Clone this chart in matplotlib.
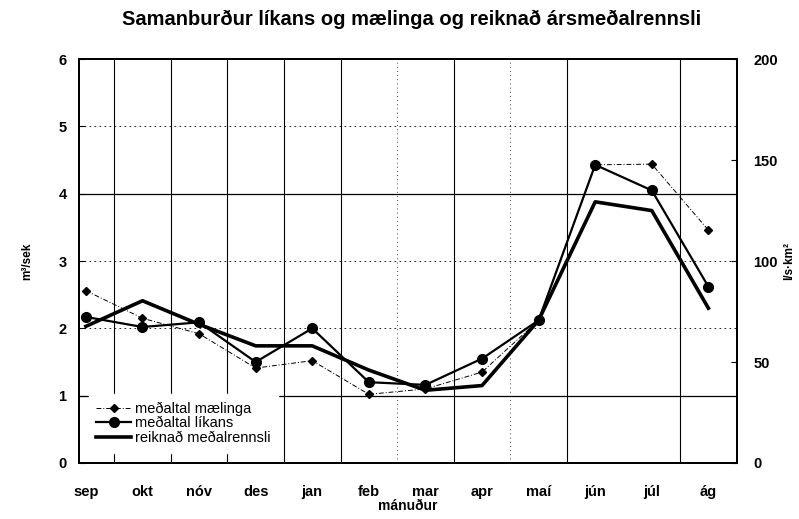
import matplotlib.pyplot as plt

plt.rcParams['font.family'] = ['Liberation Sans', 'DejaVu Sans']

# mánaðarmeðaltöl, m3/sek
manudir = ['sep', 'okt', 'nóv', 'des', 'jan', 'feb', 'mar', 'apr', 'maí', 'jún', 'júl', 'ág']
maelingar = [2.56, 2.15, 1.92, 1.41, 1.52, 1.02, 1.10, 1.35, 2.12, 4.43, 4.44, 3.46]
likan = [2.17, 2.02, 2.09, 1.50, 2.00, 1.20, 1.16, 1.55, 2.12, 4.43, 4.05, 2.62]
reiknad = [2.03, 2.41, 2.06, 1.74, 1.74, 1.38, 1.08, 1.15, 2.12, 3.88, 3.75, 2.30]

vinstri_ticks = [0, 1, 2, 3, 4, 5, 6]
haegri_ticks = [0, 50, 100, 150, 200]

fig = plt.figure(figsize=(7.99, 5.19), dpi=100)
ax = fig.add_axes([0.099, 0.108, 0.823, 0.778])
x = list(range(len(manudir)))

# rúðunet, sumar línur heilar og aðrar punktaðar
for v in [0.5, 1.5, 2.5, 3.5, 4.5, 6.5, 8.5, 10.5]:
    ax.axvline(v, color='black', lw=0.8, zorder=0)
for v in [5.5, 7.5]:
    ax.axvline(v, color='black', lw=0.6, ls=(0, (1, 4)), zorder=0)
for h in [1, 4]:
    ax.axhline(h, color='black', lw=0.9, zorder=0)
for h in [2, 3, 5]:
    ax.axhline(h, color='black', lw=0.6, ls=(0, (2, 4)), zorder=0)

ax.plot(x, maelingar, color='black', lw=0.7, ls=(0, (5, 2, 1, 2)), marker='D', ms=4,
        label='meðaltal mælinga', zorder=3)
ax.plot(x, likan, color='black', lw=1.6, marker='o', ms=7, label='meðaltal líkans', zorder=4)
ax.plot(x, reiknad, color='black', lw=2.6, label='reiknað meðalrennsli', zorder=5)

ax.set_xlim(-0.12, 11.5)
ax.set_ylim(0, 6)
ax.set_xticks(x)
ax.set_xticklabels(manudir, fontsize=10.5, fontweight='bold')
ax.set_yticks(vinstri_ticks)
ax.set_yticklabels([str(t) for t in vinstri_ticks], fontsize=10.5, fontweight='bold')
ax.tick_params(axis='x', length=0, pad=16)
ax.tick_params(axis='y', length=4, direction='in', pad=9)
for s in ax.spines.values():
    s.set_linewidth(1.4)

ax.set_ylabel('m³/sek', fontsize=8.5, fontweight='bold', labelpad=18)
ax.set_xlabel('mánuður', fontsize=10, fontweight='bold', labelpad=0)

# hægri ás í l/s·km², sami kvarði
ax2 = ax.twinx()
ax2.set_ylim(0, 200)
ax2.set_yticks(haegri_ticks)
ax2.set_yticklabels([str(t) for t in haegri_ticks], fontsize=10.5, fontweight='bold')
ax2.tick_params(axis='y', length=4, direction='in', pad=12)
ax2.set_ylabel('l/s·km²', fontsize=8.5, fontweight='bold', labelpad=4)
for s in ax2.spines.values():
    s.set_linewidth(1.4)

leg = ax.legend(loc='lower left', bbox_to_anchor=(0.008, 0.015), frameon=True, fancybox=False,
                fontsize=10.5, handlelength=2.4, handletextpad=0.3, labelspacing=0.05,
                borderpad=0.5, borderaxespad=0.3)
leg.get_frame().set_edgecolor('white')
leg.get_frame().set_alpha(1)
leg.set_zorder(6)

fig.suptitle('Samanburður líkans og mælinga og reiknað ársmeðalrennsli', x=0.515, y=0.982,
             fontsize=14.5, fontweight='bold')

fig.savefig('out.png', dpi=100)
